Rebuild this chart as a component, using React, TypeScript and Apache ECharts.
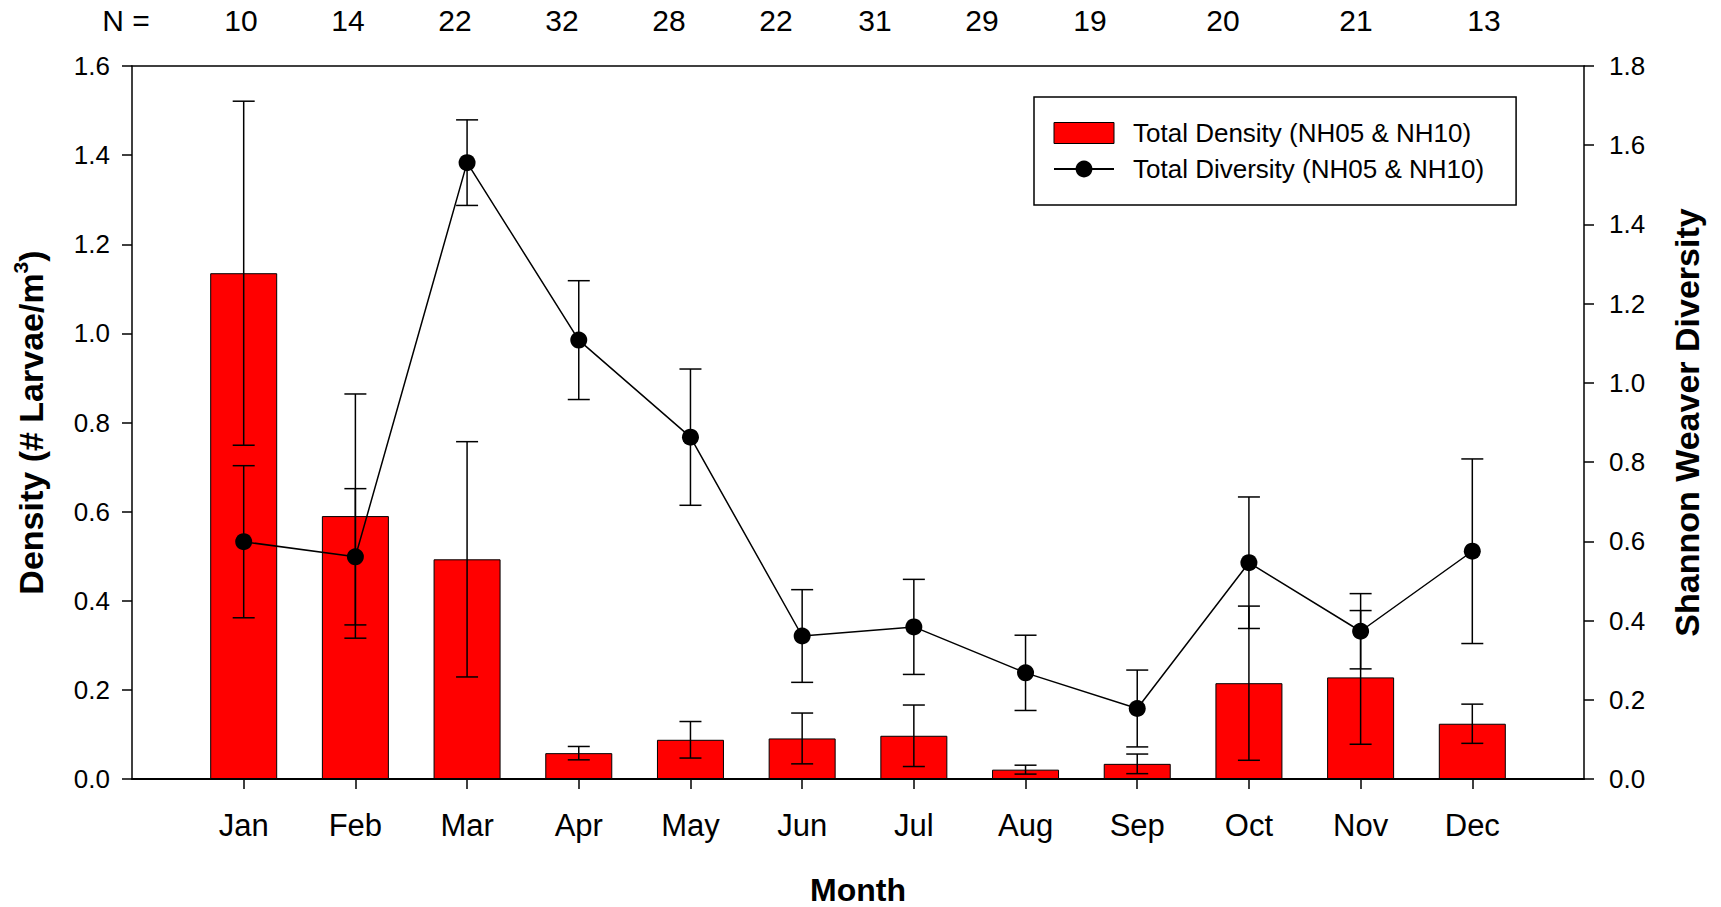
import React, { useEffect, useRef } from "react";
import * as echarts from "echarts";

const months = ["Jan", "Feb", "Mar", "Apr", "May", "Jun", "Jul", "Aug", "Sep", "Oct", "Nov", "Dec"];
const density = [1.135, 0.590, 0.493, 0.058, 0.088, 0.091, 0.097, 0.021, 0.034, 0.215, 0.228, 0.124];
const densityErr = [0.386, 0.274, 0.264, 0.015, 0.041, 0.057, 0.069, 0.010, 0.022, 0.173, 0.150, 0.044];
const diversity = [0.599, 0.561, 1.556, 1.108, 0.863, 0.361, 0.384, 0.268, 0.178, 0.546, 0.373, 0.575];
const diversityErr = [0.192, 0.172, 0.108, 0.150, 0.172, 0.117, 0.120, 0.095, 0.097, 0.166, 0.095, 0.233];
const nCounts = [10, 14, 22, 32, 28, 22, 31, 29, 19, 20, 21, 13];
const leftTicks = { min: 0, max: 1.6, interval: 0.2 };
const rightTicks = { min: 0, max: 1.8, interval: 0.2 };

// layout (pixel x-centres of the hand-placed N labels)
const nLabelX = [241, 348, 455, 562, 669, 776, 875, 982, 1090, 1223, 1356, 1484];

const FONT = "'Liberation Sans', Arial, Helvetica, sans-serif";
const DENS_NAME = "Total Density (NH05 & NH10)";
const DIV_NAME = "Total Diversity (NH05 & NH10)";

function errorRenderer(params: any, api: any) {
  const x = api.value(0);
  const y = api.value(1);
  const e = api.value(2);
  const top = api.coord([x, y + e]);
  const bot = api.coord([x, y - e]);
  const hw = 11;
  const st = { stroke: "#000", lineWidth: 1.5 };
  return {
    type: "group",
    children: [
      { type: "line", shape: { x1: top[0], y1: top[1], x2: bot[0], y2: bot[1] }, style: st },
      { type: "line", shape: { x1: top[0] - hw, y1: top[1], x2: top[0] + hw, y2: top[1] }, style: st },
      { type: "line", shape: { x1: bot[0] - hw, y1: bot[1], x2: bot[0] + hw, y2: bot[1] }, style: st },
    ],
  };
}

export default function App() {
  const ref = useRef<HTMLDivElement>(null);
  useEffect(() => {
    if (!ref.current) return;
    const chart = echarts.init(ref.current, null, { renderer: "svg" });
    const xs = months.map((_, i) => i + 1);
    const graphics: any[] = [
      {
        type: "text",
        x: 126,
        y: 20,
        style: { text: "N =", fontSize: 30, fontFamily: FONT, fill: "#000", align: "center", verticalAlign: "middle" },
      },
      ...nCounts.map((n, i) => ({
        type: "text",
        x: nLabelX[i],
        y: 20,
        style: { text: String(n), fontSize: 30, fontFamily: FONT, fill: "#000", align: "center", verticalAlign: "middle" },
      })),
    ];
    chart.setOption({
      animation: false,
      backgroundColor: "#fff",
      textStyle: { fontFamily: FONT, color: "#000" },
      grid: { left: 132, right: 137, top: 66, bottom: 128, containLabel: false, outerBoundsMode: "none" },
      legend: {
        left: 1034,
        top: 97,
        orient: "vertical",
        itemWidth: 60,
        itemHeight: 21,
        itemGap: 10,
        padding: [23, 32, 23, 19],
        borderColor: "#000",
        borderWidth: 1.5,
        textStyle: { fontSize: 26, fontFamily: FONT, color: "#000", padding: [0, 0, 0, 14] },
        data: [
          { name: DENS_NAME, icon: "rect", itemStyle: { color: "#ff0000", borderColor: "#000", borderWidth: 1 } },
          { name: DIV_NAME },
        ],
      },
      xAxis: [
        {
          type: "value",
          min: 0,
          max: 13,
          interval: 1,
          position: "bottom",
          name: "Month",
          nameLocation: "middle",
          nameGap: 95,
          nameTextStyle: { fontSize: 32, fontWeight: "bold", fontFamily: FONT, color: "#000" },
          axisLine: { show: true, onZero: false, lineStyle: { color: "#000", width: 2 } },
          axisTick: { show: true, inside: false, length: 10, customValues: xs, lineStyle: { color: "#000", width: 1.5 } },
          axisLabel: {
            customValues: xs,
            margin: 31,
            fontSize: 31,
            fontFamily: FONT,
            color: "#000",
            formatter: (v: number) => months[Math.round(v) - 1] ?? "",
          },
          splitLine: { show: false },
        },
        {
          type: "value",
          min: 0,
          max: 13,
          position: "top",
          axisLine: { show: true, onZero: false, lineStyle: { color: "#000", width: 1.5 } },
          axisTick: { show: false },
          axisLabel: { show: false },
          splitLine: { show: false },
        },
      ],
      yAxis: [
        {
          type: "value",
          position: "left",
          ...leftTicks,
          name: "Density (# Larvae/m{sup|3})",
          nameLocation: "middle",
          nameGap: 80,
          nameTextStyle: {
            fontSize: 34,
            fontWeight: "bold",
            fontFamily: FONT,
            color: "#000",
            lineHeight: 42,
            rich: { sup: { fontSize: 21, fontWeight: "bold", fontFamily: FONT, color: "#000", verticalAlign: "top", lineHeight: 42 } },
          },
          axisLine: { show: true, onZero: false, lineStyle: { color: "#000", width: 1.5 } },
          axisTick: { show: true, length: 10, lineStyle: { color: "#000", width: 1.5 } },
          axisLabel: { margin: 22, fontSize: 26, fontFamily: FONT, color: "#000", formatter: (v: number) => v.toFixed(1) },
          splitLine: { show: false },
        },
        {
          type: "value",
          position: "right",
          ...rightTicks,
          name: "Shannon Weaver Diversity",
          nameLocation: "middle",
          nameGap: 86,
          nameTextStyle: { fontSize: 34, fontWeight: "bold", fontFamily: FONT, color: "#000" },
          axisLine: { show: true, onZero: false, lineStyle: { color: "#000", width: 1.5 } },
          axisTick: { show: true, length: 10, lineStyle: { color: "#000", width: 1.5 } },
          axisLabel: { margin: 25, fontSize: 26, fontFamily: FONT, color: "#000", formatter: (v: number) => v.toFixed(1) },
          splitLine: { show: false },
        },
      ],
      series: [
        {
          name: DENS_NAME,
          type: "bar",
          xAxisIndex: 0,
          yAxisIndex: 0,
          barWidth: 67,
          itemStyle: { color: "#ff0000", borderColor: "#000", borderWidth: 1 },
          data: density.map((v, i) => [i + 1, v]),
          z: 2,
        },
        {
          name: "densityErr",
          type: "custom",
          xAxisIndex: 0,
          yAxisIndex: 0,
          renderItem: errorRenderer,
          encode: { x: 0, y: 1 },
          data: density.map((v, i) => [i + 1, v, densityErr[i]]),
          z: 3,
        },
        {
          name: "diversityErr",
          type: "custom",
          xAxisIndex: 0,
          yAxisIndex: 1,
          renderItem: errorRenderer,
          encode: { x: 0, y: 1 },
          data: diversity.map((v, i) => [i + 1, v, diversityErr[i]]),
          z: 3,
        },
        {
          name: DIV_NAME,
          type: "line",
          xAxisIndex: 0,
          yAxisIndex: 1,
          symbol: "circle",
          symbolSize: 17,
          lineStyle: { color: "#000", width: 1.5 },
          itemStyle: { color: "#000" },
          data: diversity.map((v, i) => [i + 1, v]),
          z: 4,
        },
      ],
      graphic: graphics,
    });
    return () => chart.dispose();
  }, []);
  return <div ref={ref} style={{ position: "fixed", left: 0, top: 0, width: 1721, height: 907, background: "#fff" }} />;
}
